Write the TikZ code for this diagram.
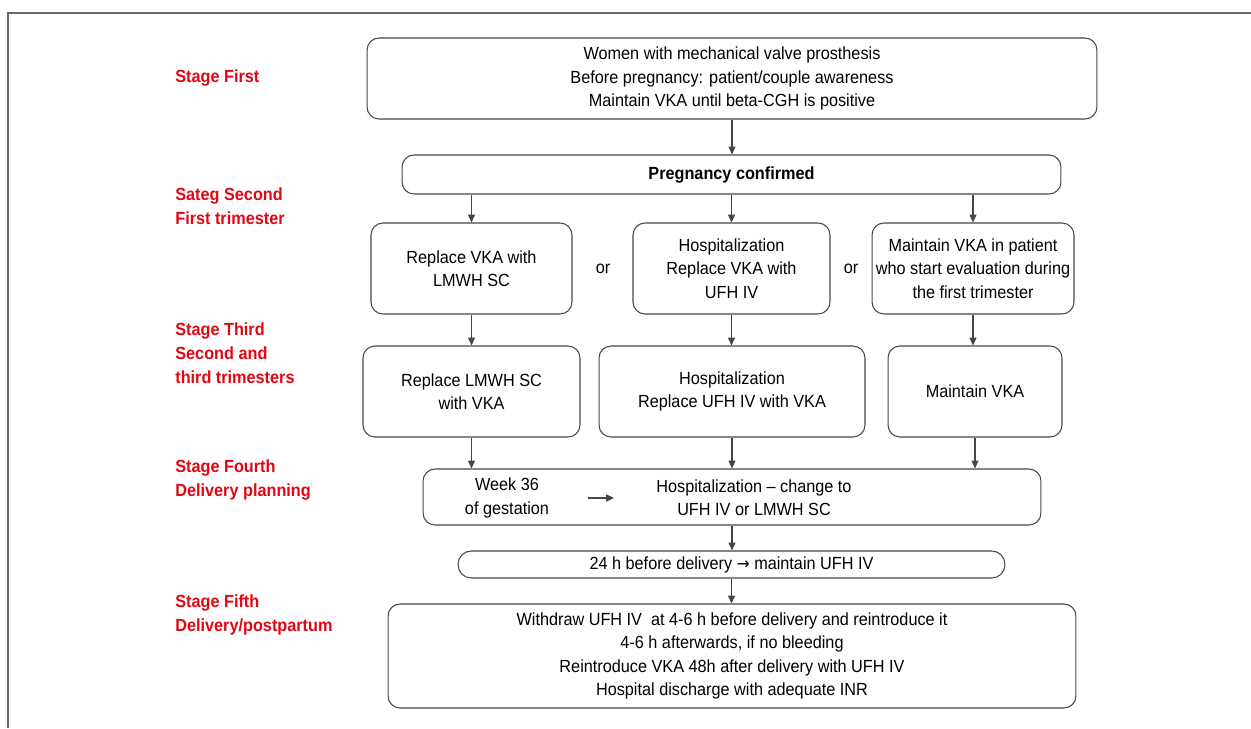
\documentclass[tikz,border=0pt]{standalone}
\usepackage{fontspec}
\setmainfont[FakeStretch=0.925]{Liberation Sans}
\newfontfamily\arrowfont[FakeStretch=0.925,Scale=0.95]{DejaVu Sans}
\usetikzlibrary{arrows.meta}
\definecolor{stagered}{RGB}{226,6,19}
\definecolor{boxline}{RGB}{70,70,70}
\definecolor{framegray}{RGB}{105,105,105}
\tikzset{
  box/.style={draw=boxline, line width=0.6pt, rounded corners=6.8pt, align=center, inner sep=2pt, font=\fontsize{10}{13.3}\selectfont},
  stage/.style={text=stagered, font=\fontsize{10}{13.7}\selectfont\bfseries, align=left, anchor=north west, inner sep=0pt},
  plain/.style={align=center, inner sep=0pt, font=\fontsize{10}{13.3}\selectfont},
  arr/.style={draw=boxline, line width=0.6pt, -{Triangle[length=4.5pt,width=4pt]}}
}

\begin{document}
\begin{tikzpicture}[x=0.02cm, y=-0.02cm]
  \useasboundingbox (0,0) rectangle (1251,728);
  \draw[framegray, line width=0.8pt] (8,728) |- (1251,13);

  % stages
  \node[stage] (s1) at (175,69.5) {Stage First};
  \node[stage] (s2) at (175,187.5) {Sateg Second\\First trimester};
  \node[stage] (s3) at (175,322.5) {Stage Third\\Second and\\third trimesters};
  \node[stage] (s4) at (175,459.5) {Stage Fourth\\Delivery planning};
  \node[stage] (s5) at (175,594.5) {Stage Fifth\\Delivery/postpartum};

  % flow
  \node[box, minimum width=14.6cm, minimum height=1.62cm] (women) at (732,78.5)
    {Women with mechanical valve prosthesis\\Before pregnancy: patient/couple awareness\\Maintain VKA until beta-CGH is positive};
  \node[box, minimum width=13.18cm, minimum height=0.78cm, font=\fontsize{10}{13.3}\selectfont\bfseries] (preg) at (731.5,174.5) {Pregnancy confirmed};

  \node[box, minimum width=4.02cm, minimum height=1.82cm] (lmwh) at (471.5,268.5) {Replace VKA with\\LMWH SC};
  \node[box, minimum width=3.94cm, minimum height=1.82cm] (ufh) at (731.5,268.5) {Hospitalization\\Replace VKA with\\UFH IV};
  \node[box, minimum width=4.04cm, minimum height=1.82cm] (keep) at (973,268.5) {Maintain VKA in patient\\who start evaluation during\\the first trimester};
  \node[plain] (or1) at (603,269) {or};
  \node[plain] (or2) at (851,269) {or};

  \node[box, minimum width=4.34cm, minimum height=1.82cm] (back) at (471.5,391.5) {Replace LMWH SC\\with VKA};
  \node[box, minimum width=5.32cm, minimum height=1.82cm] (hosp) at (732,391.5) {Hospitalization\\Replace UFH IV with VKA};
  \node[box, minimum width=3.48cm, minimum height=1.82cm] (vka) at (975,391.5) {Maintain VKA};

  \node[box, minimum width=12.36cm, minimum height=1.12cm] (plan) at (732,497) {};
  \node[plain] (wk) at (507,498) {Week 36\\of gestation};
  \node[plain] (chg) at (754,498) {Hospitalization -- change to\\UFH IV or LMWH SC};

  \node[box, rounded corners=7.5pt, minimum width=10.94cm, minimum height=0.54cm] (h24) at (731.5,564.5) {24 h before delivery {\arrowfont →} maintain UFH IV};

  \node[box, minimum width=13.76cm, minimum height=2.08cm] (post) at (732,656)
    {Withdraw UFH IV\ \ at 4-6 h before delivery and reintroduce it\\4-6 h afterwards, if no bleeding\\Reintroduce VKA 48h after delivery with UFH IV\\Hospital discharge with adequate INR};

  % arrows
  \draw[arr] (women.south) -- (women.south |- preg.north);
  \draw[arr] (lmwh.north |- preg.south) -- (lmwh.north);
  \draw[arr] (ufh.north |- preg.south) -- (ufh.north);
  \draw[arr] (keep.north |- preg.south) -- (keep.north);
  \draw[arr] (lmwh.south) -- (lmwh.south |- back.north);
  \draw[arr] (ufh.south) -- (ufh.south |- hosp.north);
  \draw[arr] (keep.south) -- (keep.south |- vka.north);
  \draw[arr] (back.south) -- (back.south |- plan.north);
  \draw[arr] (hosp.south) -- (hosp.south |- plan.north);
  \draw[arr] (vka.south) -- (vka.south |- plan.north);
  \draw[arr] ([xshift=0.78cm]wk.east) -- ([xshift=-0.84cm]chg.west);
  \draw[arr] (plan.south) -- (plan.south |- h24.north);
  \draw[arr] (h24.south) -- (h24.south |- post.north);
\end{tikzpicture}
\end{document}
